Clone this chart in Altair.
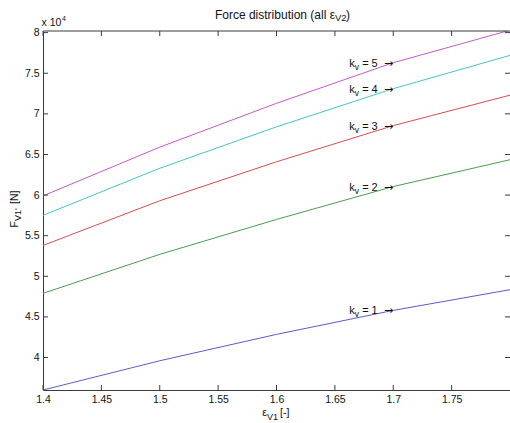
import altair as alt
import pandas as pd

# ---------------- data ----------------
eps_v1 = [1.4, 1.5, 1.6, 1.7, 1.8]
F_kv1 = [36000, 39600, 42850, 45800, 48350]
F_kv2 = [47900, 52700, 57000, 61050, 64350]
F_kv3 = [53800, 59300, 64100, 68550, 72300]
F_kv4 = [57500, 63300, 68400, 73100, 77200]
F_kv5 = [59900, 65900, 71300, 76300, 80300]
kv_values = [1, 2, 3, 4, 5]
series_names = ["k_v = 1", "k_v = 2", "k_v = 3", "k_v = 4", "k_v = 5"]
series_colors = ["#5b5bd0", "#4a9e4a", "#dc4c4c", "#46c4c4", "#c05ac8"]
label_at_x = 1.7
x_ticks = [1.4, 1.45, 1.5, 1.55, 1.6, 1.65, 1.7, 1.75]
y_ticks = [40000, 45000, 50000, 55000, 60000, 65000, 70000, 75000, 80000]
x_domain = [1.4, 1.8]
y_domain = [36000, 80200]

all_F = [F_kv1, F_kv2, F_kv3, F_kv4, F_kv5]

rows = []
for name, F in zip(series_names, all_F):
    for x, y in zip(eps_v1, F):
        rows.append({"x": x, "y": y, "series": name})
df = pd.DataFrame(rows)

lab_idx = eps_v1.index(label_at_x)
lab_df = pd.DataFrame({
    "x": [label_at_x] * len(all_F),
    "y": [F[lab_idx] for F in all_F],
    "rest": ["= %d" % k for k in kv_values],
})

# ---------------- style ----------------
W, H = 467, 359
FONT = "Liberation Sans"
AX = "#3a3a3a"
TXT = "#111111"
TICK = 5

X = alt.X("x:Q",
          scale=alt.Scale(domain=x_domain, nice=False, zero=False),
          axis=alt.Axis(values=x_ticks, title=None, grid=False, tickSize=0,
                        labelPadding=4, labelFlush=False,
                        labelExpr="format(datum.value, '.2~f')",
                        labelFont=FONT, labelFontSize=10.5, labelColor=TXT,
                        domainColor=AX, domainWidth=1, labelOverlap=False))
Y = alt.Y("y:Q",
          scale=alt.Scale(domain=y_domain, nice=False, zero=False),
          axis=alt.Axis(values=y_ticks, title=None, grid=False, tickSize=0,
                        labelPadding=4,
                        labelExpr="format(datum.value / 10000, '~g')",
                        labelFont=FONT, labelFontSize=10.5, labelColor=TXT,
                        domainColor=AX, domainWidth=1, labelOverlap=False))

lines = alt.Chart(df).mark_line(strokeWidth=1, clip=True).encode(
    x=X, y=Y,
    color=alt.Color("series:N",
                    scale=alt.Scale(domain=series_names, range=series_colors),
                    legend=None),
)

xt_df = pd.DataFrame({"x": x_ticks})
yt_df = pd.DataFrame({"y": y_ticks})
one = alt.Data(values=[{"a": 1}])

x_ticks_bottom = alt.Chart(xt_df).mark_rule(color=AX, strokeWidth=1).encode(
    x=X, y=alt.value(H), y2=alt.value(H - TICK))
x_ticks_top = alt.Chart(xt_df).mark_rule(color=AX, strokeWidth=1).encode(
    x=X, y=alt.value(0), y2=alt.value(TICK))
y_ticks_left = alt.Chart(yt_df).mark_rule(color=AX, strokeWidth=1).encode(
    y=Y, x=alt.value(0), x2=alt.value(TICK))
y_ticks_right = alt.Chart(yt_df).mark_rule(color=AX, strokeWidth=1).encode(
    y=Y, x=alt.value(W - TICK), x2=alt.value(W))
top_border = alt.Chart(one).mark_rule(color=AX, strokeWidth=1).encode(
    x=alt.value(0), x2=alt.value(W), y=alt.value(0))

# in-plot labels "k_v = n ->"
lab_k = alt.Chart(lab_df).mark_text(text="k", align="right", baseline="alphabetic",
                                    dx=-38.5, dy=4, font=FONT, fontSize=11, color=TXT
                                    ).encode(x=X, y=Y)
lab_v = alt.Chart(lab_df).mark_text(text="v", align="left", baseline="alphabetic",
                                    dx=-38.5, dy=7, font=FONT, fontSize=8.5, color=TXT
                                    ).encode(x=X, y=Y)
lab_rest = alt.Chart(lab_df).mark_text(align="right", baseline="alphabetic",
                                       dx=-15.5, dy=4, font=FONT, fontSize=11, color=TXT
                                       ).encode(x=X, y=Y, text="rest:N")
lab_arrow = alt.Chart(lab_df).mark_text(text="\u2192", align="right", baseline="alphabetic",
                                        dx=0, dy=4, font="DejaVu Sans", fontSize=11,
                                        color=TXT).encode(x=X, y=Y)


def txt(s, x, y, size, align="left", angle=0):
    kw = dict(text=s, align=align, baseline="alphabetic", font=FONT,
              fontSize=size, color=TXT)
    if angle:
        kw["angle"] = angle
    return alt.Chart(one).mark_text(**kw).encode(x=alt.value(x), y=alt.value(y))


# title: Force distribution (all eps_V2)
title_parts = [
    txt("Force distribution (all \u03b5", 292, -12.5, 12, "right"),
    txt("V2", 292, -10, 9.5, "left"),
    txt(")", 303, -12.5, 12, "left"),
]
# exponent "x 10^4"
exp_parts = [
    txt("x 10", -1.5, -5, 10.5, "left"),
    txt("4", 19, -10, 7, "left"),
]
# x-axis title eps_V1 [-]
xtitle_parts = [
    txt("\u03b5", 224, 385, 10.5, "right"),
    txt("V1", 224, 389, 9, "left"),
    txt("[-]", 237, 385, 10.5, "left"),
]
# y-axis title F_V1' [N]  (rotated)
ytitle_parts = [
    txt("F", -25.5, 190, 10.5, "right", 270),
    txt("V1'", -22.5, 190, 9, "left", 270),
    txt("[N]", -25.5, 173, 10.5, "left", 270),
]

chart = alt.layer(
    lines, top_border, x_ticks_bottom, x_ticks_top, y_ticks_left, y_ticks_right,
    lab_k, lab_v, lab_rest, lab_arrow,
    *title_parts, *exp_parts, *xtitle_parts, *ytitle_parts,
).properties(
    width=W, height=H,
    autosize=alt.AutoSizeParams(type="none"),
    padding={"left": 43, "top": 31, "right": 0, "bottom": 33},
    background="white",
).configure_view(stroke=None)

chart.save("out.html", embed_options={"renderer": "svg", "actions": False})
